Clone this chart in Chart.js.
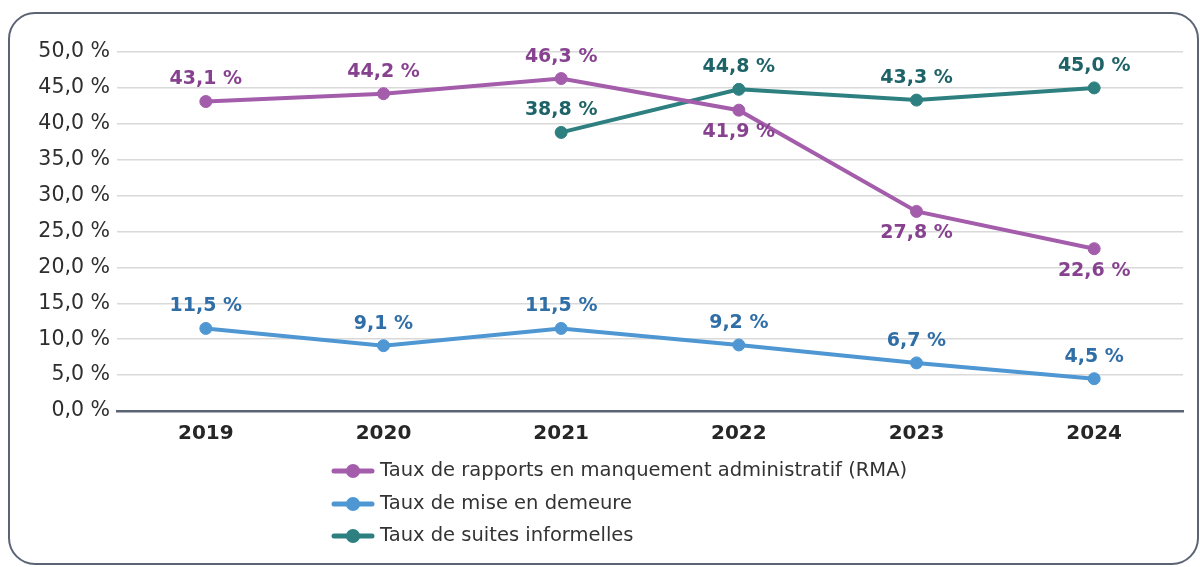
<!DOCTYPE html>
<html><head><meta charset="utf-8">
<script src="https://cdn.jsdelivr.net/npm/chart.js@4/dist/chart.umd.min.js"></script>
<style>html,body{margin:0;padding:0;background:#fff}#wrap{width:1200px;height:567px;position:relative}</style>
</head><body><div id="wrap"><canvas id="c" width="1200" height="567"></canvas></div>
<script>
const categories = ['2019','2020','2021','2022','2023','2024'];
const seriesNames = ['Taux de rapports en manquement administratif (RMA)','Taux de mise en demeure','Taux de suites informelles'];
const rmaValues = [43.1, 44.2, 46.3, 41.9, 27.8, 22.6];
const demeureValues = [11.5, 9.1, 11.5, 9.2, 6.7, 4.5];
const informellesValues = [null, null, 38.8, 44.8, 43.3, 45.0];
const rmaLabelBelow = [false, false, false, true, true, true];
const demeureLabelBelow = [false, false, false, false, false, false];
const informellesLabelBelow = [false, false, false, false, false, false];
const yTicks = [0,5,10,15,20,25,30,35,40,45,50];

const FONT = '"DejaVu Sans", "Noto Sans", sans-serif';
const lineColors = ['#a35dab', '#4e97d3', '#2e7f80'];
const labelColors = ['#87428f', '#2f6ea6', '#1e6367'];
const belowFlags = [rmaLabelBelow, demeureLabelBelow, informellesLabelBelow];
const fmt = v => v.toFixed(1).replace('.', ',') + ' %';

const framePlugin = {
  id: 'frame',
  beforeDraw(chart) {
    const ctx = chart.ctx;
    ctx.save();
    ctx.strokeStyle = '#5b6475';
    ctx.lineWidth = 2;
    ctx.beginPath();
    ctx.roundRect(9, 13, 1189, 551, 26);
    ctx.stroke();
    ctx.restore();
  }
};

const labelPlugin = {
  id: 'valueLabels',
  afterDatasetsDraw(chart) {
    const ctx = chart.ctx;
    ctx.save();
    ctx.font = 'bold 19px ' + FONT;
    ctx.textAlign = 'center';
    ctx.textBaseline = 'middle';
    chart.data.datasets.forEach((ds, di) => {
      const meta = chart.getDatasetMeta(di);
      meta.data.forEach((pt, i) => {
        const v = ds.data[i];
        if (v === null || v === undefined) return;
        ctx.fillStyle = labelColors[di];
        const dy = belowFlags[di][i] ? 22 : -22;
        ctx.fillText(fmt(v), pt.x, pt.y + dy);
      });
    });
    ctx.restore();
  }
};

const legendPlugin = {
  id: 'customLegend',
  afterDraw(chart) {
    const ctx = chart.ctx;
    ctx.save();
    const rows = [471, 504, 536];
    chart.data.datasets.forEach((ds, di) => {
      const y = rows[di];
      ctx.strokeStyle = lineColors[di];
      ctx.lineWidth = 5;
      ctx.lineCap = 'round';
      ctx.beginPath();
      ctx.moveTo(334, y);
      ctx.lineTo(372, y);
      ctx.stroke();
      ctx.fillStyle = lineColors[di];
      ctx.beginPath();
      ctx.arc(353, y, 7, 0, Math.PI * 2);
      ctx.fill();
      ctx.fillStyle = '#333333';
      ctx.font = '19.5px ' + FONT;
      ctx.textAlign = 'left';
      ctx.textBaseline = 'middle';
      ctx.fillText(ds.label, 380, y);
    });
    ctx.restore();
  }
};

const datasets = [rmaValues, demeureValues, informellesValues].map((vals, i) => ({
  label: seriesNames[i],
  data: vals,
  borderColor: lineColors[i],
  backgroundColor: lineColors[i],
  pointBackgroundColor: lineColors[i],
  pointBorderColor: lineColors[i],
  borderWidth: 4,
  pointRadius: 6,
  pointBorderWidth: 1,
  tension: 0,
  spanGaps: false
}));

new Chart(document.getElementById('c'), {
  type: 'line',
  data: { labels: categories, datasets },
  options: {
    responsive: false,
    animation: false,
    layout: { padding: { top: 52, right: 17, left: 0, bottom: 0 } },
    plugins: { legend: { display: false }, tooltip: { enabled: false } },
    scales: {
      x: {
        offset: true,
        afterFit: s => { s.height = 156; },
        grid: { display: false, drawTicks: false },
        border: { display: true, color: '#5b6475', width: 2.5 },
        ticks: { padding: 11, color: '#262626', font: { family: FONT, size: 20, weight: 'bold' } }
      },
      y: {
        min: 0, max: 50,
        afterFit: s => { s.width = 117; },
        afterBuildTicks: s => { s.ticks = yTicks.map(v => ({ value: v })); },
        grid: { color: '#d9d9d9', lineWidth: 1.5, drawTicks: false },
        border: { display: false },
        ticks: { padding: 7, color: '#2e2e2e', font: { family: FONT, size: 20.5 }, callback: v => fmt(v) }
      }
    }
  },
  plugins: [framePlugin, labelPlugin, legendPlugin]
});
</script></body></html>
